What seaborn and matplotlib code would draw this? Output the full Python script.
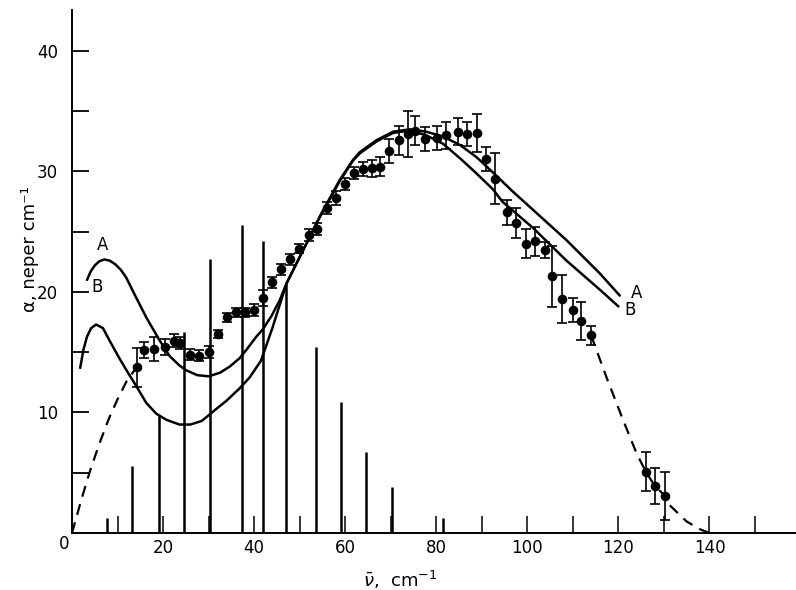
import numpy as np
import pandas as pd
import matplotlib
matplotlib.use("Agg")
import matplotlib.pyplot as plt
import seaborn as sns

# measured absorption (neper/cm) with error bars
nu_pts = [14.2, 15.9, 18.1, 20.4, 22.3, 23.8, 25.9, 28.0, 30.1, 32.0,
          34.1, 36.1, 37.9, 40.0, 41.9, 43.9, 46.0, 47.8, 49.9, 52.0,
          53.9, 55.9, 57.9, 59.9, 61.9, 63.9, 65.8, 67.6, 69.6, 71.8,
          73.7, 75.4, 77.6, 80.2, 82.2, 84.8, 86.8, 89.0, 90.9, 92.9,
          95.6, 97.4, 99.6, 101.6, 103.8, 105.5, 107.7, 110.1, 111.8, 114.0,
          126.0, 128.0, 130.2]
alpha_pts = [13.75, 15.2, 15.3, 15.45, 15.95, 15.8, 14.8, 14.7, 15.0, 16.5,
             17.9, 18.3, 18.3, 18.5, 19.5, 20.8, 21.9, 22.7, 23.6, 24.75,
             25.2, 27.0, 27.8, 29.0, 29.9, 30.2, 30.25, 30.4, 31.7, 32.6,
             33.1, 33.4, 32.7, 32.8, 33.0, 33.3, 33.1, 33.2, 31.0, 29.4,
             26.6, 25.75, 24.0, 24.2, 23.5, 21.3, 19.4, 18.5, 17.6, 16.4,
             5.1, 3.9, 3.1]
alpha_err = [1.6, 0.65, 1.0, 0.65, 0.55, 0.5, 0.45, 0.45, 0.5, 0.35,
             0.35, 0.4, 0.4, 0.5, 0.7, 0.45, 0.45, 0.45, 0.4, 0.5,
             0.5, 0.5, 0.6, 0.5, 0.5, 0.6, 0.7, 0.8, 1.0, 1.2,
             1.9, 1.2, 1.0, 1.0, 1.1, 1.1, 1.0, 1.6, 1.0, 2.1,
             1.0, 1.25, 1.2, 1.2, 0.65, 2.55, 2.0, 1.0, 1.55, 0.8,
             1.6, 1.5, 2.0]

# calculated curves A and B
curveA_nu = [3.3, 4.1, 5.0, 6.0, 7.1, 8.3, 9.5, 10.7, 11.9, 14.0,
             16.3, 19.2, 21.4, 23.6, 25.1, 27.5, 30.0, 32.5, 34.6, 36.8,
             38.3, 40.5, 41.9, 43.8, 45.6, 47.1, 50.0, 54.4, 58.8, 61.7,
             63.2, 66.9, 70.5, 74.2, 77.8, 81.5, 85.2, 88.8, 92.5, 96.9,
             101.3, 108.6, 115.9, 120.3]
curveA_a = [21.0, 21.7, 22.2, 22.55, 22.7, 22.6, 22.3, 21.85, 21.2, 19.6,
            17.9, 16.0, 14.7, 13.9, 13.5, 13.1, 13.0, 13.3, 13.8, 14.5,
            15.2, 16.3, 16.9, 18.0, 19.3, 20.7, 22.9, 26.25, 29.3, 30.95,
            31.6, 32.6, 33.3, 33.5, 33.3, 32.9, 32.2, 31.2, 29.9, 28.3,
            26.8, 24.3, 21.55, 19.7]
curveB_nu = [1.8, 2.5, 3.3, 4.2, 5.3, 6.8, 8.2, 10.4, 12.3, 14.1,
             16.3, 18.5, 20.7, 23.6, 26.0, 28.5, 31.7, 34.0, 36.8, 39.0,
             41.5, 44.0, 47.1, 50.0, 54.4, 58.8, 61.7, 63.2, 66.9, 70.5,
             74.2, 77.8, 81.5, 85.2, 88.8, 92.5, 94.5, 101.3, 108.6, 115.9,
             120.0]
curveB_a = [13.7, 15.2, 16.3, 17.0, 17.3, 17.0, 16.0, 14.5, 13.3, 12.2,
            10.8, 9.9, 9.4, 9.0, 9.0, 9.3, 10.3, 11.0, 12.0, 12.9,
            14.3, 17.0, 20.7, 22.9, 26.2, 29.2, 30.9, 31.5, 32.5, 33.2,
            33.4, 33.0, 32.3, 31.1, 29.85, 28.5, 27.5, 25.3, 22.6, 20.2,
            18.8]

# dashed extrapolations
dashL_nu = [0, 2, 4, 6, 8, 10, 12, 14.2]
dashL_a = [0, 2.7, 5.2, 7.4, 9.4, 11.1, 12.6, 13.75]
dashR_nu = [114.0, 117.5, 121.0, 124.0, 126.0, 128.0, 130.2, 131.0, 135.0, 138.0, 140.0]
dashR_a = [16.4, 12.8, 9.4, 6.6, 5.1, 3.9, 3.1, 2.4, 0.95, 0.3, 0.0]

# line spectrum sticks
stick_nu = [7.6, 13.1, 19.2, 24.7, 30.4, 37.3, 41.9, 47.1, 53.5, 59.0, 64.5, 70.2, 81.5]
stick_h = [1.25, 5.6, 9.8, 16.7, 22.7, 25.6, 24.2, 20.7, 15.4, 10.9, 6.7, 3.8, 1.25]

sns.set_style("ticks")
plt.rcParams['font.family'] = ['DejaVu Sans']
for k in ['text.color', 'axes.labelcolor', 'xtick.color', 'ytick.color', 'axes.edgecolor']:
    plt.rcParams[k] = 'black'

fig = plt.figure(figsize=(7.96, 5.90), dpi=100)
ax = fig.add_axes([72 / 796, 57 / 590, 1 - 72 / 796, 523 / 590])

ax.vlines(stick_nu, 0, stick_h, color='black', lw=1.8)

sns.lineplot(x=curveA_nu, y=curveA_a, ax=ax, color='black', lw=1.8, sort=False, estimator=None)
sns.lineplot(x=curveB_nu, y=curveB_a, ax=ax, color='black', lw=1.8, sort=False, estimator=None)
sns.lineplot(x=dashL_nu, y=dashL_a, ax=ax, color='black', lw=1.6, sort=False,
             estimator=None, linestyle=(0, (5, 3.5)))
sns.lineplot(x=dashR_nu, y=dashR_a, ax=ax, color='black', lw=1.6, sort=False,
             estimator=None, linestyle=(0, (5, 3.5)))

ax.errorbar(nu_pts, alpha_pts, yerr=alpha_err, fmt='none', ecolor='black',
            elinewidth=1.2, capsize=3.6, capthick=1.2, zorder=3)
sns.scatterplot(x=nu_pts, y=alpha_pts, ax=ax, color='black', s=48,
                edgecolor='black', linewidth=0, zorder=4)

ax.text(6.7, 23.9, 'A', fontsize=12, ha='center', va='center')
ax.text(5.4, 20.4, 'B', fontsize=12, ha='center', va='center')
ax.text(123.9, 19.9, 'A', fontsize=12, ha='center', va='center')
ax.text(122.6, 18.5, 'B', fontsize=12, ha='center', va='center')

ax.set_xlim(0, 159)
ax.set_ylim(0, 43.4)
sns.despine(ax=ax)
for s in ['left', 'bottom']:
    ax.spines[s].set_linewidth(1.4)

ax.set_yticks(np.arange(0, 41, 5))
ax.set_yticklabels(['', '', '10', '', '20', '', '30', '', '40'])
ax.set_xticks(np.arange(0, 151, 10))
ax.set_xticklabels(['' if (t % 20 or t == 0) else str(t) for t in range(0, 151, 10)])
ax.tick_params(axis='y', direction='in', length=12, width=1.3, pad=10, labelsize=12)
ax.tick_params(axis='x', direction='in', length=12, width=1.1, pad=4, labelsize=12)
ax.text(-1.8, -0.9, '0', fontsize=12, ha='center', va='center', clip_on=False)

fig.text(30 / 796, 1 - 249 / 590, 'α, neper cm⁻¹', rotation=90, ha='center',
         va='center', fontsize=13)
fig.text(400 / 796, 1 - 580 / 590, r'$\bar{\nu}$,  cm$^{-1}$', ha='center',
         va='center', fontsize=13)

fig.savefig('out.png', dpi=100)
